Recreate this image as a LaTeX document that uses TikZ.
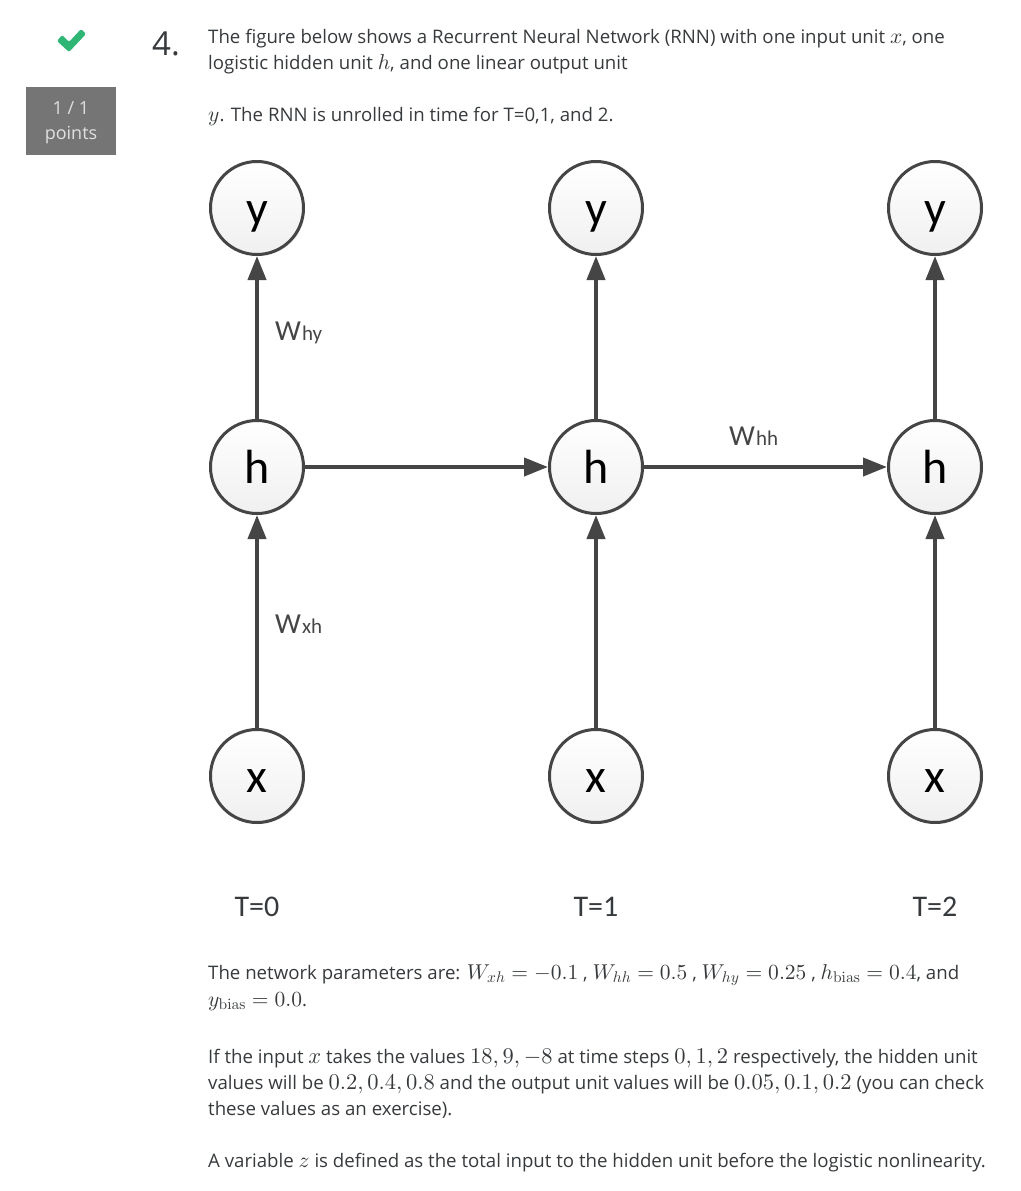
\documentclass[tikz,border=0pt]{standalone}
\usepackage{fontspec}
\setmainfont{Open Sans}
\newfontfamily\figfont{Carlito}
\DeclareFontShape{OT1}{cmr}{m}{n}{<->cmr10}{}
\DeclareFontShape{OML}{cmm}{m}{it}{<->cmmi10}{}
\DeclareFontShape{OMS}{cmsy}{m}{n}{<->cmsy10}{}
\DeclareMathAlphabet{\mathsub}{OT1}{cmr}{m}{n}
\DeclareMathSizes{18.65}{21.5}{15.5}{12}
\DeclareMathSizes{18.66}{22.5}{15.5}{12}
\usetikzlibrary{positioning,shadows,arrows.meta}
\definecolor{txt}{HTML}{373A3C}
\definecolor{dk}{HTML}{454545}
\definecolor{okgreen}{HTML}{2FB574}
\definecolor{badge}{HTML}{757575}
\tikzset{
  unit/.style={circle, minimum size=93pt, inner sep=0pt, draw=dk, line width=3pt, top color=white, bottom color=black!6, text=black, text height=32pt, text depth=0pt, font=\figfont\fontsize{48}{48}\selectfont, drop shadow={shadow xshift=1.5pt, shadow yshift=-1.5pt, fill=black!30, opacity=.4}},
  link/.style={draw=dk, line width=4pt, -{Triangle[length=24pt,width=18pt]}},
  wt/.style={text=dk, font=\figfont\fontsize{29}{29}\selectfont, anchor=base west, inner sep=0pt},
  tm/.style={text=txt, font=\figfont\fontsize{30}{30}\selectfont, inner sep=0pt, anchor=base},
  para/.style={text=txt, font=\fontsize{18.65}{22}\selectfont, anchor=base west, inner sep=0pt},
  paranum/.style={para, font=\fontsize{18.66}{22}\selectfont}
}
\begin{document}
\begin{tikzpicture}[x=1pt,y=-1pt]
	\useasboundingbox (0,0) rectangle (1020,1191);
	% left column
	\fill[okgreen, rounded corners=2pt] (57,41) -- (62,35) -- (69,42) -- (81,29) -- (86,34) -- (69,52) -- cycle;
	\node[fill=badge, minimum width=90pt, minimum height=68pt, inner sep=0pt] (score) at (71,121) {};
	\node[text=white!88!black, font=\fontsize{18}{18}\selectfont, anchor=base] (scoreone) at (71,114) {1 / 1};
	\node[text=white!88!black, font=\fontsize{18}{18}\selectfont, anchor=base] (scoretwo) at (71,139) {points};
	\node[text=txt, font=\fontsize{33}{33}\selectfont, anchor=base west, inner sep=0pt] (qnum) at (152,55) {4.};
	% question
	\node[para] (qa) at (208,43) {The figure below shows a Recurrent Neural Network (RNN) with one input unit $x$, one};
	\node[para] (qb) at (208,69) {logistic hidden unit $h$, and one linear output unit};
	\node[para] (qc) at (208,121) {$y$. The RNN is unrolled in time for T=0,1, and 2.};
	% network
	\foreach \t/\px in {0/257,1/596,2/935} {
		\node[unit] (y\t) at (\px,208) {y};
		\node[unit] (h\t) at (\px,467) {h};
		\node[unit] (x\t) at (\px,776) {x};
		\draw[link] (h\t) -- (y\t);
		\draw[link] (x\t) -- (h\t);
		\node[tm] (t\t) at (\px,916) {T=\t};
	}
	\draw[link] (h0) -- (h1);
	\draw[link] (h1) -- (h2);
	\node[wt] (why) at (275,340) {W\kern1pt{\fontsize{21}{21}\selectfont hy}};
	\node[wt] (whh) at (729,445) {W\kern1pt{\fontsize{21}{21}\selectfont hh}};
	\node[wt] (wxh) at (275,633) {W\kern1pt{\fontsize{21}{21}\selectfont xh}};
	% parameters
	\node[para] (pa) at (208,979) {The network parameters are: $W_{xh}=-0.1$\ , $W_{hh}=0.5$\ , $W_{hy}=0.25$\ , $h_{\mathsub{bias}}=0.4$, and};
	\node[para] (pb) at (208,1006) {$y_{\mathsub{bias}}=0.0$.};
	\node[paranum] (pc) at (208,1063) {If the input $x$ takes the values $18,9,-8$ at time steps $0,1,2$ respectively, the hidden unit};
	\node[paranum] (pd) at (208,1089) {values will be $0.2,0.4,0.8$ and the output unit values will be $0.05,0.1,0.2$ (you can check};
	\node[para] (pe) at (208,1115) {these values as an exercise).};
	\node[para] (pf) at (208,1167) {A variable $z$ is defined as the total input to the hidden unit before the logistic nonlinearity.};
\end{tikzpicture}
\end{document}
